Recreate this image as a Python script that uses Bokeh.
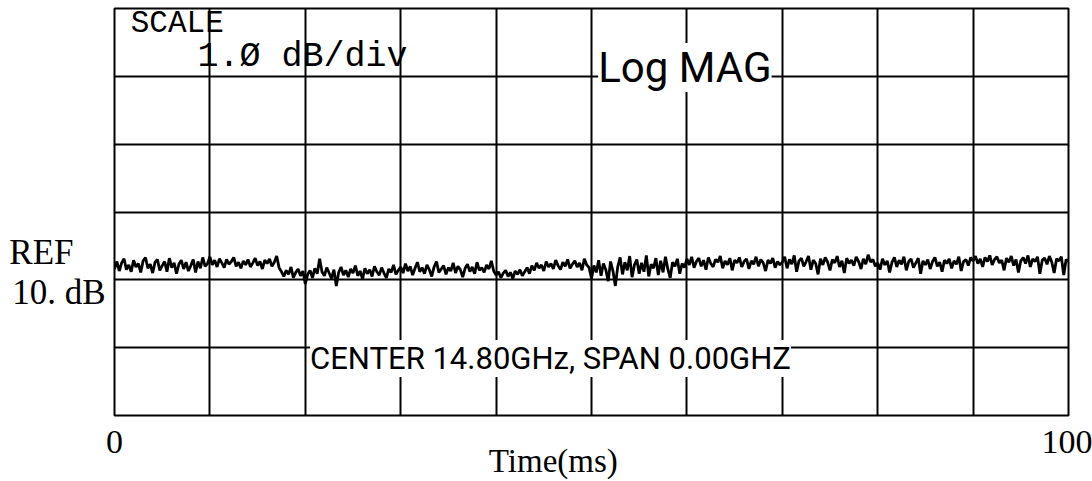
import subprocess
from bokeh.plotting import figure
from bokeh.models import Label, FixedTicker, Range1d, LinearAxis
from bokeh.embed import file_html
from bokeh.resources import INLINE

# ---------------- data ----------------
x_ticks = [0, 100]
x_grid = [0, 10, 20, 30, 40, 50, 60, 70, 80, 90, 100]
y_grid = [8, 9, 10, 11, 12, 13, 14]
x_tick_labels = {0: "0", 100: "100"}
x_title = "Time(ms)"
ref_text = "REF"
ref_level_text = "10. dB"

# measured magnitude (dB), 401 points over 0..100 ms
level_db = [
    # 0-10 ms
    10.16, 10.27, 10.13, 10.25, 10.31, 10.15, 10.22, 10.12, 10.29, 10.19,
    10.24, 10.11, 10.28, 10.33, 10.17, 10.23, 10.10, 10.26, 10.30, 10.14,
    10.21, 10.27, 10.12, 10.32, 10.18, 10.25, 10.09, 10.23, 10.29, 10.16,
    10.26, 10.13, 10.21, 10.30, 10.11, 10.27, 10.17, 10.33, 10.20, 10.24,
    # 10-20 ms
    10.34, 10.22, 10.29, 10.19, 10.31, 10.25, 10.18, 10.30, 10.23, 10.27,
    10.33, 10.20, 10.26, 10.17, 10.28, 10.22, 10.30, 10.19, 10.25, 10.32,
    10.21, 10.27, 10.16, 10.29, 10.24, 10.31, 10.20, 10.26, 10.35, 10.18,
    10.12, 10.05, 10.14, 10.08, 10.19, 10.03, 10.11, 10.16, 10.06, 10.13,
    # 20-30 ms
    9.94, 10.08, 10.14, 10.03, 10.17, 10.09, 10.31, 10.12, 10.06, 10.18,
    10.10, 10.02, 10.15, 9.91, 10.11, 10.19, 10.07, 10.14, 10.04, 10.16,
    10.10, 10.21, 10.06, 10.13, 10.01, 10.17, 10.09, 10.15, 10.05, 10.20,
    10.12, 10.07, 10.18, 10.10, 10.03, 10.16, 10.11, 10.22, 10.08, 10.14,
    # 30-40 ms
    10.19, 10.10, 10.24, 10.13, 10.20, 10.07, 10.17, 10.26, 10.12, 10.18,
    10.09, 10.22, 10.15, 10.05, 10.19, 10.27, 10.11, 10.16, 10.21, 10.08,
    10.18, 10.13, 10.25, 10.10, 10.20, 10.15, 10.04, 10.17, 10.23, 10.12,
    10.19, 10.09, 10.26, 10.14, 10.18, 10.11, 10.22, 10.16, 10.28, 10.13,
    # 40-50 ms
    10.07, 10.12, 10.03, 10.10, 10.14, 10.05, 10.11, 10.02, 10.13, 10.08,
    10.15, 10.06, 10.12, 10.18, 10.09, 10.21, 10.14, 10.25, 10.17, 10.22,
    10.13, 10.27, 10.19, 10.24, 10.16, 10.29, 10.21, 10.15, 10.26, 10.20,
    10.30, 10.17, 10.23, 10.28, 10.19, 10.25, 10.14, 10.31, 10.22, 10.18,
    # 50-60 ms
    10.02, 10.21, 10.11, 10.29, 10.06, 10.24, 10.15, 9.98, 10.27, 10.13,
    9.91, 10.19, 10.33, 10.08, 10.26, 10.14, 10.35, 10.04, 10.22, 10.30,
    10.09, 10.25, 10.12, 10.36, 10.05, 10.23, 10.17, 10.32, 10.07, 10.28,
    10.11, 10.34, 10.16, 10.03, 10.26, 10.20, 10.31, 10.09, 10.24, 10.18,
    # 60-70 ms
    10.31, 10.22, 10.34, 10.18, 10.27, 10.32, 10.20, 10.29, 10.15, 10.33,
    10.24, 10.19, 10.30, 10.26, 10.35, 10.17, 10.28, 10.22, 10.32, 10.14,
    10.29, 10.25, 10.33, 10.19, 10.27, 10.31, 10.16, 10.28, 10.23, 10.34,
    10.20, 10.30, 10.25, 10.13, 10.29, 10.24, 10.32, 10.18, 10.27, 10.22,
    # 70-80 ms
    10.26, 10.34, 10.17, 10.30, 10.23, 10.36, 10.12, 10.28, 10.32, 10.20,
    10.27, 10.35, 10.15, 10.29, 10.24, 10.08, 10.31, 10.22, 10.33, 10.26,
    10.14, 10.30, 10.25, 10.35, 10.19, 10.28, 10.10, 10.32, 10.24, 10.29,
    10.21, 10.34, 10.27, 10.16, 10.31, 10.23, 10.37, 10.26, 10.30, 10.20,
    # 80-90 ms
    10.25, 10.15, 10.31, 10.22, 10.28, 10.11, 10.26, 10.33, 10.19, 10.29,
    10.23, 10.34, 10.14, 10.27, 10.31, 10.18, 10.25, 10.32, 10.09, 10.28,
    10.22, 10.30, 10.16, 10.27, 10.33, 10.20, 10.26, 10.12, 10.29, 10.24,
    10.31, 10.17, 10.28, 10.23, 10.34, 10.13, 10.27, 10.30, 10.21, 10.33,
    # 90-100 ms
    10.28, 10.35, 10.24, 10.31, 10.19, 10.33, 10.27, 10.36, 10.22, 10.30,
    10.34, 10.25, 10.29, 10.14, 10.32, 10.26, 10.35, 10.21, 10.30, 10.11,
    10.28, 10.33, 10.24, 10.36, 10.19, 10.31, 10.27, 10.34, 10.09, 10.29,
    10.32, 10.23, 10.35, 10.26, 10.10, 10.31, 10.28, 10.34, 10.07, 10.30,
    10.27,
]
n = len(level_db)
time_ms = [i * 100.0 / (n - 1) for i in range(n)]

# ---------------- fonts ----------------
try:
    _fonts = subprocess.run(["fc-list"], capture_output=True, text=True).stdout
except Exception:
    _fonts = ""
if "Liberation Sans Narrow" in _fonts:
    NARROW, LOG_SIZE, CEN_SIZE = "Liberation Sans Narrow", "48px", "35px"
else:
    NARROW, LOG_SIZE, CEN_SIZE = "Roboto", "42px", "31px"
SERIF = "Liberation Serif"
PLOTTER = "Liberation Mono"

# ---------------- figure ----------------
p = figure(
    width=1092, height=481,
    x_range=Range1d(0, 100), y_range=Range1d(8, 14),
    output_backend="svg", toolbar_location=None,
    min_border_left=114, min_border_right=24,
    min_border_top=8, min_border_bottom=66,
    y_axis_location=None,
    background_fill_color="white", border_fill_color="white",
    outline_line_color="black", outline_line_width=2,
)

p.xgrid.ticker = FixedTicker(ticks=x_grid)
p.ygrid.ticker = FixedTicker(ticks=y_grid)
for g in (p.xgrid, p.ygrid):
    g.grid_line_color = "black"
    g.grid_line_width = 2
    g.grid_line_alpha = 1.0


def plain_axis(axis, font, size, standoff):
    axis.axis_line_color = None
    axis.major_tick_line_color = None
    axis.minor_tick_line_color = None
    axis.major_tick_out = 0
    axis.major_tick_in = 0
    axis.minor_tick_out = 0
    axis.minor_tick_in = 0
    axis.major_label_text_font = font
    axis.major_label_text_font_size = size
    axis.major_label_text_color = "black"
    axis.major_label_standoff = standoff


# bottom: tick labels 0 / 100
ax = p.xaxis[0]
ax.ticker = FixedTicker(ticks=x_ticks)
ax.major_label_overrides = x_tick_labels
plain_axis(ax, SERIF, "34px", 15)

# bottom: axis title placed under the trace as its own label
ax_t = LinearAxis(ticker=FixedTicker(ticks=[46]),
                  major_label_overrides={46: x_title})
plain_axis(ax_t, SERIF, "33px", -13)
p.add_layout(ax_t, "below")

# left: reference level text
ax_l1 = LinearAxis(ticker=FixedTicker(ticks=[9.82]),
                   major_label_overrides={9.82: ref_level_text})
plain_axis(ax_l1, SERIF, "35px", 9)
p.add_layout(ax_l1, "left")

ax_l2 = LinearAxis(ticker=FixedTicker(ticks=[10.41]),
                   major_label_overrides={10.41: ref_text})
plain_axis(ax_l2, SERIF, "35px", -64)
p.add_layout(ax_l2, "left")

p.line(time_ms, level_db, line_color="black", line_width=2.8)


def lab(text, x, y, font, size, bg=None):
    kw = dict(text=text, x=x, y=y, x_units="data", y_units="data",
              text_font=font, text_font_size=size, text_color="black",
              text_align="left", text_baseline="alphabetic")
    if bg:
        kw["background_fill_color"] = bg
    p.add_layout(Label(**kw))


lab("SCALE", 1.7, 13.775, PLOTTER, "31px")
lab("1.Ø dB/div", 8.7, 13.28, PLOTTER, "35px")
lab("Log MAG", 50.7, 13.131, NARROW, LOG_SIZE, bg="white")
lab("CENTER 14.80GHz, SPAN 0.00GHZ", 20.5, 8.84, NARROW, CEN_SIZE, bg="white")

open("out.html", "w").write(file_html(p, INLINE))
